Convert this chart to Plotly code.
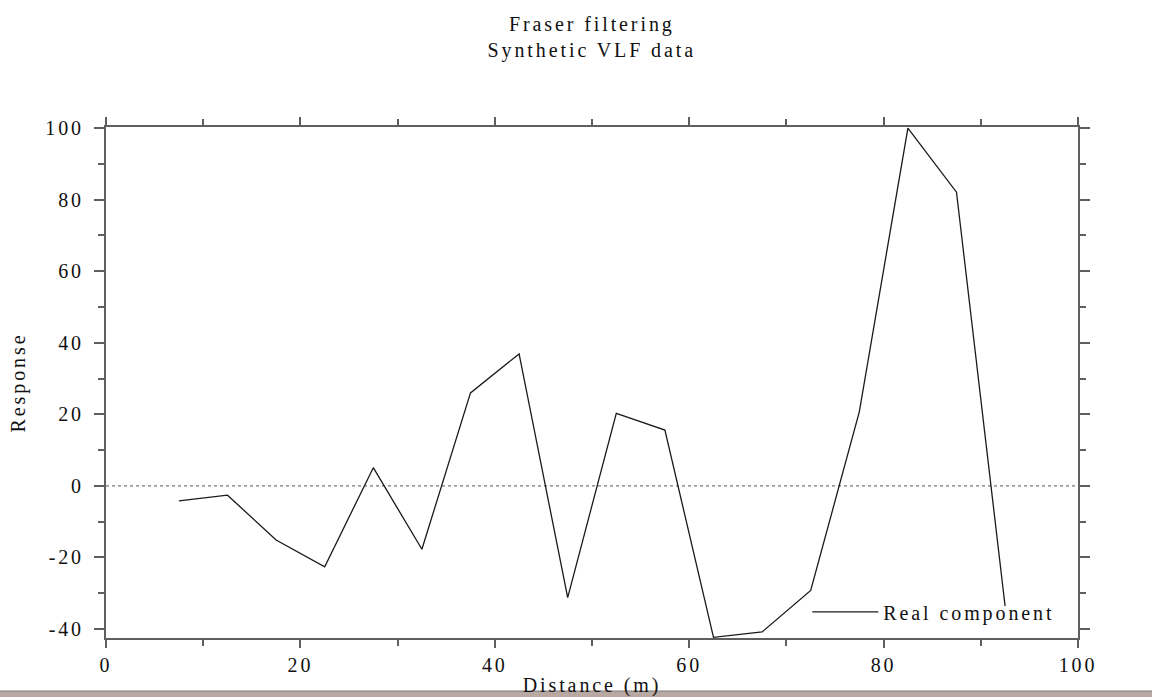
import plotly.graph_objects as go

# ---- data ----
distance = [7.5, 12.5, 17.5, 22.5, 27.5, 32.5, 37.5, 42.5, 47.5, 52.5,
            57.5, 62.5, 67.5, 72.5, 77.5, 82.5, 87.5, 92.5]
real_component = [-4.2, -2.6, -15.1, -22.6, 5.1, -17.7, 26.0, 36.9, -31.2, 20.3,
                  15.6, -42.3, -40.8, -29.2, 20.7, 100.0, 82.1, -33.6]

x_ticks = [0, 20, 40, 60, 80, 100]
x_tick_labels = ["0", "20", "40", "60", "80", "100"]
y_ticks = [-40, -20, 0, 20, 40, 60, 80, 100]
y_tick_labels = ["-40", "-20", "0", "20", "40", "60", "80", "100"]

title_lines = ["Fraser filtering", "Synthetic VLF data"]
series_name = "Real component"
x_title = "Distance (m)"
y_title = "Response"

FONT = "Liberation Serif, Times New Roman, serif"
AXIS_COLOR = "#5f5f5f"

fig = go.Figure()
fig.add_trace(go.Scatter(
    x=distance, y=real_component, mode="lines", name=series_name,
    line=dict(color="#1a1a1a", width=1.3),
))

# dotted zero reference line
fig.add_hline(y=0, line=dict(color="#555555", width=1, dash="dot"), layer="below")

# screenshot taskbar strip at the bottom edge
fig.add_shape(type="rect", xref="paper", yref="paper",
              x0=-0.2, x1=1.2, y0=-0.1037, y1=-0.14,
              fillcolor="#b9a7a2", line=dict(color="#7d7d7d", width=1),
              layer="above")

fig.update_layout(
    width=1152, height=697,
    margin=dict(l=106, r=74, t=127, b=59, autoexpand=False),
    paper_bgcolor="white", plot_bgcolor="white",
    font=dict(family=FONT, size=20, color="#111111"),
    title=dict(text="<br>".join(title_lines), x=0.5137, xanchor="center",
               y=1 - 31 / 697, yref="container", yanchor="middle",
               font=dict(family=FONT, size=20, color="#111111")),
    showlegend=True,
    legend=dict(x=0.7215, y=0.051, xanchor="left", yanchor="middle",
                orientation="h", entrywidth=260, entrywidthmode="pixels",
                itemwidth=66,
                bgcolor="rgba(0,0,0,0)", borderwidth=0,
                font=dict(family=FONT, size=20, color="#111111")),
    xaxis=dict(range=[0, 100], tickvals=x_ticks, ticktext=x_tick_labels,
               showgrid=False, zeroline=False,
               showline=True, linecolor=AXIS_COLOR, linewidth=2, mirror="allticks",
               ticks="outside", ticklen=8, tickwidth=1.5, tickcolor=AXIS_COLOR,
               minor=dict(dtick=10, ticks="outside", ticklen=6, tickwidth=1.5,
                          tickcolor=AXIS_COLOR, showgrid=False),
               title=dict(text=x_title, standoff=10, font=dict(family=FONT, size=20)),
               tickfont=dict(family=FONT, size=20)),
    yaxis=dict(range=[-42.5, 100.3], tickvals=y_ticks, ticktext=y_tick_labels,
               showgrid=False, zeroline=False,
               showline=True, linecolor=AXIS_COLOR, linewidth=2, mirror="allticks",
               ticks="outside", ticklen=10, tickwidth=1.5, tickcolor=AXIS_COLOR,
               ticklabelstandoff=6,
               minor=dict(dtick=10, ticks="outside", ticklen=6, tickwidth=1.5,
                          tickcolor=AXIS_COLOR, showgrid=False),
               title=dict(text=y_title, standoff=23, font=dict(family=FONT, size=20)),
               tickfont=dict(family=FONT, size=20)),
)

# the reference renders its serif text with a slightly widened letter spacing
letter_spacing = ("var s=document.createElement('style');"
                  "s.textContent='.main-svg text{letter-spacing:2.9px}';"
                  "document.head.appendChild(s);")

fig.write_html("out.html", post_script=letter_spacing)
